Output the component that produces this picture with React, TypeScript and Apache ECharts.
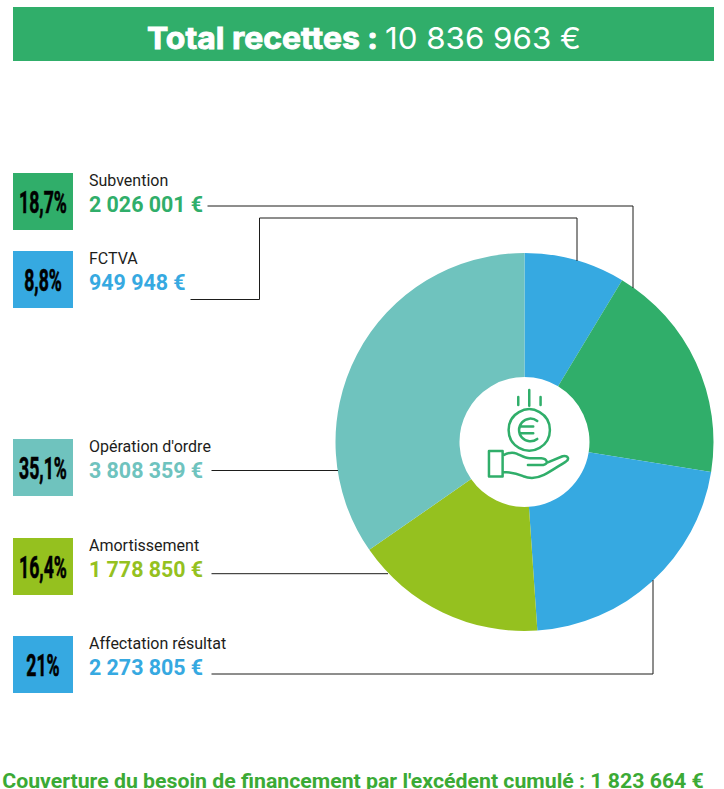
import React, { useEffect, useRef } from "react";
import * as echarts from "echarts";

const names = ["FCTVA", "Subvention", "Affectation résultat", "Amortissement", "Opération d'ordre"];
// Slice sizes as measured on the picture, in degrees; the reference's drawn slices differ slightly from its printed amounts.
const sliceDegrees = [31.1, 68.0, 77.0, 59.1, 124.8];
const amounts = ["949 948 €", "2 026 001 €", "2 273 805 €", "1 778 850 €", "3 808 359 €"];
const percents = ["8,8%", "18,7%", "21%", "16,4%", "35,1%"];
const titleBold = "Total recettes :";
const titleValue = "10 836 963 €";
const footer = "Couverture du besoin de financement par l'excédent cumulé : 1 823 664 €";

const colors = ["#36A9E1", "#30AE6A", "#36A9E1", "#95C11F", "#6FC3BE"];
const rowTops = [251, 173, 636, 538, 439];
const leaders = [
  [[190.5, 299.5], [259.5, 299.5], [259.5, 218], [577, 218], [577, 261]],
  [[207.5, 206], [633, 206], [633, 288]],
  [[211.5, 674], [653, 674], [653, 580]],
  [[211.5, 573.7], [388, 573.7]],
  [[211.5, 470.5], [338, 470.5]],
];

const euroPath = "M262 138 A34 34 0 1 0 262 192 M212 155 L250 155 M212 175 L250 175";
const handPath =
  "M158 242 C172 234 186 230 200 236 C214 242 226 250 240 250 L274 250 C294 252 296 268 280 270 L234 270 " +
  "M290 264 L338 244 C354 240 360 252 348 260 C325 274 305 288 282 300 C262 310 240 312 220 304 C205 297 190 291 158 291 " +
  "M117 228 L158 228 L158 305 L117 305 Z";
echarts.graphic.registerShape("euroGlyph", echarts.graphic.extendPath(euroPath, {}) as any);
echarts.graphic.registerShape("handGlyph", echarts.graphic.extendPath(handPath, {}) as any);

export default function App() {
  const ref = useRef<HTMLDivElement>(null);
  useEffect(() => {
    const chart = echarts.init(ref.current!, undefined, { renderer: "svg" });
    const graphics: any[] = [
      { type: "rect", z: 1, shape: { x: 13, y: 7, width: 701, height: 54 }, style: { fill: "#30AE6A" } },
      {
        type: "text", z: 2, x: 147, y: 38, scaleX: 1.064,
        style: { text: titleBold, verticalAlign: "middle", font: "700 30px Inter", fill: "#fff", stroke: "#fff", lineWidth: 0.9 },
      },
      {
        type: "text", z: 2, x: 385, y: 38, scaleX: 1.043,
        style: { text: titleValue, verticalAlign: "middle", font: "400 30px Inter", fill: "#fff" },
      },
      {
        type: "text", z: 2, x: 353, y: 781, scaleX: 1.038,
        style: { text: footer, align: "center", verticalAlign: "middle", font: "700 20.5px Roboto", fill: "#3BAA35" },
      },
    ];
    names.forEach((name, i) => {
      const top = rowTops[i];
      graphics.push(
        { type: "rect", z: 2, shape: { x: 13, y: top, width: 60, height: 57 }, style: { fill: colors[i] } },
        {
          type: "text", z: 3, x: 43, y: top + 30, scaleX: 0.57,
          style: { text: percents[i], align: "center", verticalAlign: "middle", font: "700 31px Roboto", fill: "#000", stroke: "#000", lineWidth: 0.6 },
        },
        { type: "text", z: 3, x: 89, y: top + 7.5, style: { text: name, verticalAlign: "middle", font: "400 16px Roboto", fill: "#1d1d1b" } },
        { type: "text", z: 3, x: 89, y: top + 31, style: { text: amounts[i], verticalAlign: "middle", font: "700 21.4px Roboto", fill: colors[i] } },
        { type: "polyline", z: 4, shape: { points: leaders[i] }, style: { stroke: "#1d1d1b", lineWidth: 1, fill: "none" } },
      );
    });
    const stroke = { stroke: "#30AE6A", lineWidth: 7.5, fill: "none", lineCap: "round", lineJoin: "round" };
    graphics.push({
      type: "group", x: 450, y: 375, scaleX: 1 / 3, scaleY: 1 / 3, z: 5,
      children: [
        { type: "circle", z: 5, shape: { cx: 238, cy: 165, r: 62 }, style: stroke },
        { type: "line", z: 5, shape: { x1: 205, y1: 66, x2: 205, y2: 90 }, style: stroke },
        { type: "line", z: 5, shape: { x1: 238, y1: 45, x2: 238, y2: 92 }, style: stroke },
        { type: "line", z: 5, shape: { x1: 272, y1: 66, x2: 272, y2: 90 }, style: stroke },
        { type: "euroGlyph", z: 5, style: stroke },
        { type: "handGlyph", z: 5, style: stroke },
      ],
    });
    chart.setOption({
      animation: false,
      backgroundColor: "#ffffff",
      series: [
        {
          type: "pie",
          center: [524.5, 442],
          radius: [65, 189],
          startAngle: 90,
          clockwise: true,
          silent: true,
          label: { show: false },
          labelLine: { show: false },
          data: names.map((name, i) => ({ name, value: sliceDegrees[i], itemStyle: { color: colors[i] } })),
        },
      ],
      graphic: { elements: graphics },
    });
    return () => chart.dispose();
  }, []);
  return <div ref={ref} style={{ position: "absolute", left: 0, top: 0, width: 724, height: 789 }} />;
}
